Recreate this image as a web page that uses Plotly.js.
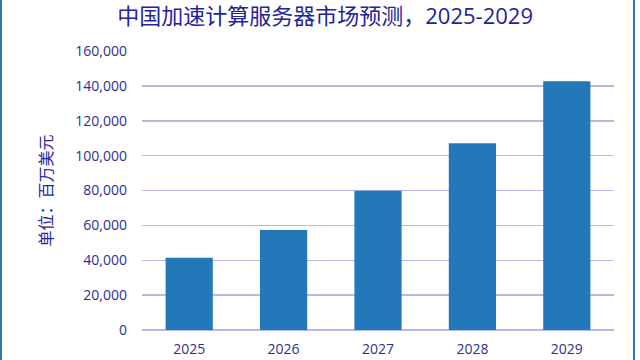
<!DOCTYPE html>
<html>
<head>
<meta charset="utf-8">
<script src="https://cdn.plot.ly/plotly-3.0.1.min.js"></script>
<style>
html,body{margin:0;padding:0;background:#fff;}
#chart{width:640px;height:360px;position:relative;}
#frameL{position:absolute;left:0;top:0;width:2px;height:360px;background:#2e75b6;z-index:10;}
#frameR{position:absolute;left:633px;top:0;width:2px;height:360px;background:#2e75b6;z-index:10;}
</style>
</head>
<body>
<div id="chart"></div>
<div id="frameL"></div>
<div id="frameR"></div>
<script>
const years = ["2025", "2026", "2027", "2028", "2029"];
const marketValues = [41400, 57300, 79800, 107100, 142600];
const yTickValues = [0, 20000, 40000, 60000, 80000, 100000, 120000, 140000, 160000];

const fontFamily = '"Open Sans", "Noto Sans CJK SC", sans-serif';
const trace = {
  type: 'bar',
  x: years,
  y: marketValues,
  marker: {color: '#2378b9'},
  hoverinfo: 'none'
};
const layout = {
  width: 640, height: 360,
  margin: {l: 142, r: 26, t: 51, b: 30},
  paper_bgcolor: '#ffffff',
  plot_bgcolor: '#ffffff',
  bargap: 0.5,
  showlegend: false,
  title: {
    text: '中国加速计算服务器市场预测，2025-2029',
    font: {family: fontFamily, size: 22, color: '#23239a'},
    x: 0.508, xref: 'container', xanchor: 'center',
    y: 0.955, yref: 'container', yanchor: 'middle'
  },
  xaxis: {
    type: 'category',
    tickfont: {family: fontFamily, size: 14, color: '#2e2e96'},
    showgrid: false,
    zeroline: false,
    showline: false,
    ticks: '',
    ticklabelstandoff: 9
  },
  yaxis: {
    range: [0, 160000],
    tickvals: yTickValues,
    tickformat: ',',
    tickfont: {family: fontFamily, size: 14, color: '#2e2e96'},
    gridcolor: '#b8b8ea',
    gridwidth: 1.5,
    zeroline: true,
    zerolinecolor: '#b8b8ea',
    zerolinewidth: 1.5,
    showline: false,
    ticks: '',
    ticklabelstandoff: 14,
    title: {
      text: '单位：百万美元',
      font: {family: fontFamily, size: 16, color: '#2626a0'},
      standoff: 18
    },
    automargin: false
  }
};
Plotly.newPlot('chart', [trace], layout, {displayModeBar: false, staticPlot: true});
</script>
</body>
</html>
